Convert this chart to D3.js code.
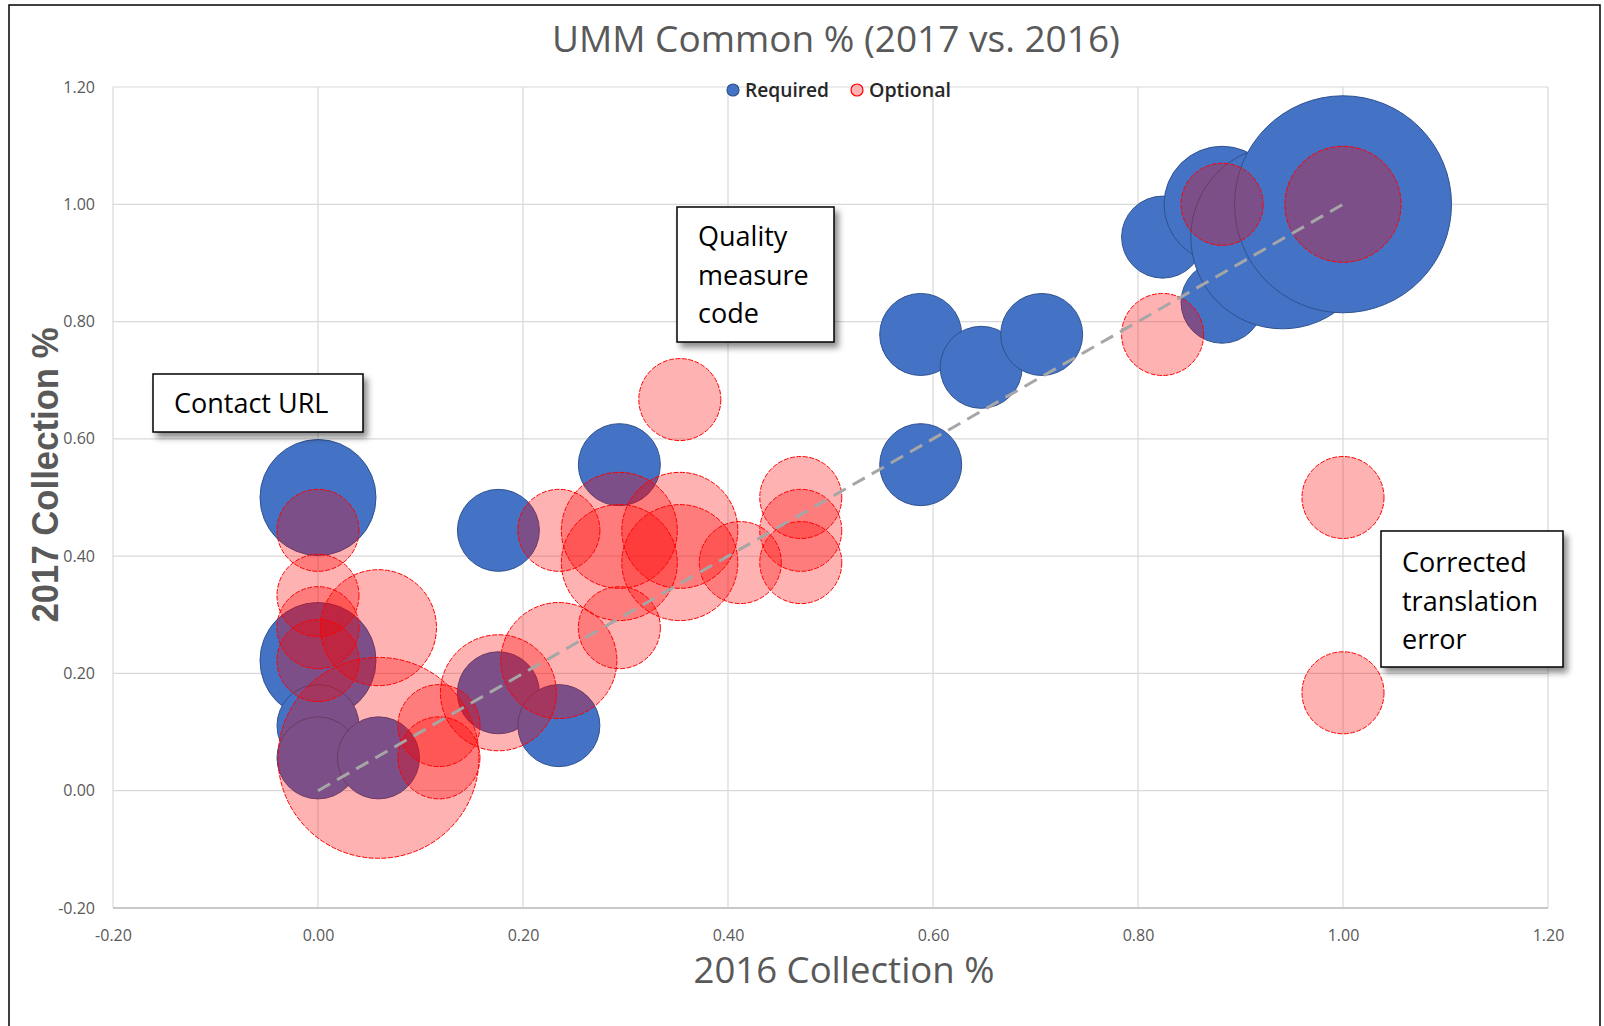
<!DOCTYPE html>
<html>
<head>
<meta charset="utf-8">
<script src="https://cdn.jsdelivr.net/npm/d3@7"></script>
<style>
  body { margin: 0; background: #fff; }
  svg { display: block; }
</style>
</head>
<body>
<div id="chart"></div>
<script>
// data
var reqX = [0.000, 0.000, 0.000, 0.000, 0.059, 0.176, 0.176, 0.235, 0.294, 0.588, 0.588, 0.647, 0.706, 0.824, 0.882, 0.882, 0.941, 1.000];
var reqY = [0.500, 0.222, 0.111, 0.056, 0.056, 0.444, 0.167, 0.111, 0.556, 0.778, 0.556, 0.722, 0.778, 0.944, 1.000, 0.833, 0.944, 1.000];
var reqSize = [2, 2, 1, 1, 1, 1, 1, 1, 1, 1, 1, 1, 1, 1, 2, 1, 5, 7];

var optX = [0.000, 0.000, 0.000, 0.000, 0.059, 0.059, 0.118, 0.118, 0.176, 0.235, 0.235, 0.294, 0.294, 0.294, 0.353, 0.353, 0.353, 0.412, 0.471, 0.471, 0.471, 0.824, 0.882, 1.000, 1.000, 1.000];
var optY = [0.444, 0.333, 0.278, 0.222, 0.278, 0.056, 0.111, 0.056, 0.167, 0.444, 0.222, 0.444, 0.389, 0.278, 0.667, 0.444, 0.389, 0.389, 0.500, 0.444, 0.389, 0.778, 1.000, 1.000, 0.500, 0.167];
var optSize = [1, 1, 1, 1, 2, 6, 1, 1, 2, 1, 2, 2, 2, 1, 1, 2, 2, 1, 1, 1, 1, 1, 1, 2, 1, 1];

var trendX = [0, 1];
var trendY = [0, 1];

var xTicks = [-0.2, 0, 0.2, 0.4, 0.6, 0.8, 1.0, 1.2];
var yTicks = [-0.2, 0, 0.2, 0.4, 0.6, 0.8, 1.0, 1.2];

var seriesNames = ["Required", "Optional"];

// box
var width = 1604;
var height = 1026;

var plotLeft = 113;
var plotRight = 1548;
var plotTop = 87;
var plotBottom = 908;

var svg = d3
    .select("#chart")
    .append("svg")
    .attr("width", width)
    .attr("height", height);

// drop shadow for the note boxes
var shadow = svg.append("defs")
    .append("filter")
    .attr("id", "shadow")
    .attr("x", "-20%")
    .attr("y", "-20%")
    .attr("width", "150%")
    .attr("height", "150%");
shadow.append("feDropShadow")
    .attr("dx", 4)
    .attr("dy", 5)
    .attr("stdDeviation", 3)
    .attr("flood-color", "#000")
    .attr("flood-opacity", 0.45);

var xScale = d3.scaleLinear().domain([-0.2, 1.2]).range([plotLeft, plotRight]);
var yScale = d3.scaleLinear().domain([-0.2, 1.2]).range([plotBottom, plotTop]);
// bubble area goes with size
var rScale = d3.scaleSqrt().domain([0, 7]).range([0, 108.5]);

// gridlines
var grid = svg.append("g").attr("class", "grid");
grid.selectAll("line.v")
    .data(xTicks)
    .enter()
    .append("line")
    .attr("x1", function(d) { return xScale(d); })
    .attr("x2", function(d) { return xScale(d); })
    .attr("y1", plotTop)
    .attr("y2", plotBottom)
    .attr("stroke", "#d9d9d9")
    .attr("stroke-width", 1.2);
grid.selectAll("line.h")
    .data(yTicks)
    .enter()
    .append("line")
    .attr("x1", plotLeft)
    .attr("x2", plotRight)
    .attr("y1", function(d) { return yScale(d); })
    .attr("y2", function(d) { return yScale(d); })
    .attr("stroke", function(d) { return d === -0.2 ? "#c8c8c8" : "#d9d9d9"; })
    .attr("stroke-width", function(d) { return d === -0.2 ? 2 : 1.2; });

// axes (labels only)
var fmt = function(d) { return d.toFixed(2); };

var xAxis = d3.axisBottom(xScale).tickValues(xTicks).tickFormat(fmt).tickSize(0).tickPadding(22);
var yAxis = d3.axisLeft(yScale).tickValues(yTicks).tickFormat(fmt).tickSize(0).tickPadding(18);

svg.append("g")
    .attr("class", "xAxis")
    .attr("transform", "translate(0," + plotBottom + ")")
    .call(xAxis);
svg.append("g")
    .attr("class", "yAxis")
    .attr("transform", "translate(" + plotLeft + ",0)")
    .call(yAxis);

svg.selectAll(".xAxis .domain, .yAxis .domain").remove();
svg.selectAll(".xAxis text, .yAxis text")
    .attr("fill", "#595959")
    .attr("font-family", "'Open Sans', sans-serif")
    .attr("font-size", 16);

// bubbles - required first, optional on top
var reqData = reqX.map(function(x, i) { return { x: x, y: reqY[i], s: reqSize[i] }; });
var optData = optX.map(function(x, i) { return { x: x, y: optY[i], s: optSize[i] }; });

svg.append("g")
    .selectAll("circle")
    .data(reqData)
    .enter()
    .append("circle")
    .attr("cx", function(d) { return xScale(d.x); })
    .attr("cy", function(d) { return yScale(d.y); })
    .attr("r", function(d) { return rScale(d.s); })
    .attr("fill", "#4472c4")
    .attr("stroke", "#2f528f")
    .attr("stroke-width", 1);

svg.append("g")
    .selectAll("circle")
    .data(optData)
    .enter()
    .append("circle")
    .attr("cx", function(d) { return xScale(d.x); })
    .attr("cy", function(d) { return yScale(d.y); })
    .attr("r", function(d) { return rScale(d.s); })
    .attr("fill", "#ff0000")
    .attr("fill-opacity", 0.3)
    .attr("stroke", "#ff0000")
    .attr("stroke-width", 1)
    .attr("stroke-dasharray", "5,1.5");

// dashed trend line
var trend = d3.line()
    .x(function(d) { return xScale(d[0]); })
    .y(function(d) { return yScale(d[1]); });
svg.append("path")
    .datum(trendX.map(function(x, i) { return [x, trendY[i]]; }))
    .attr("d", trend)
    .attr("fill", "none")
    .attr("stroke", "#a6a6a6")
    .attr("stroke-width", 3)
    .attr("stroke-dasharray", "14,8");

// legend
var legend = svg.append("g").attr("class", "legend");
var legX = [733, 857];
seriesNames.forEach(function(name, i) {
    legend.append("circle")
        .attr("cx", legX[i])
        .attr("cy", 90)
        .attr("r", 6)
        .attr("fill", i === 0 ? "#4472c4" : "#ffb2b2")
        .attr("stroke", i === 0 ? "#2f528f" : "#ff0000")
        .attr("stroke-width", 1.2);
    legend.append("text")
        .attr("x", legX[i] + 12)
        .attr("y", 97)
        .attr("font-family", "'Open Sans', sans-serif")
        .attr("font-size", 20)
        .attr("font-weight", 600)
        .attr("fill", "#262626")
        .attr("textLength", i === 0 ? 84 : 82)
        .attr("lengthAdjust", "spacingAndGlyphs")
        .text(name);
});

// title + axis titles
svg.append("text")
    .attr("x", 836)
    .attr("y", 52)
    .attr("text-anchor", "middle")
    .attr("font-family", "'Open Sans', sans-serif")
    .attr("font-size", 37)
    .attr("fill", "#595959")
    .attr("textLength", 568)
    .attr("lengthAdjust", "spacingAndGlyphs")
    .text("UMM Common % (2017 vs. 2016)");

svg.append("text")
    .attr("x", 844)
    .attr("y", 983)
    .attr("text-anchor", "middle")
    .attr("font-family", "'Open Sans', sans-serif")
    .attr("font-size", 36)
    .attr("fill", "#595959")
    .attr("textLength", 301)
    .attr("lengthAdjust", "spacingAndGlyphs")
    .text("2016 Collection %");

svg.append("text")
    .attr("transform", "translate(58,475) rotate(-90)")
    .attr("text-anchor", "middle")
    .attr("font-family", "'Liberation Sans', Arial, sans-serif")
    .attr("font-size", 37)
    .attr("font-weight", "bold")
    .attr("fill", "#595959")
    .attr("textLength", 295)
    .attr("lengthAdjust", "spacingAndGlyphs")
    .text("2017 Collection %");

// note boxes
var notes = [
    { x: 153, y: 374, w: 210, h: 58, lines: ["Contact URL"], base: 413 },
    { x: 677, y: 207, w: 157, h: 135, lines: ["Quality", "measure", "code"], base: 246 },
    { x: 1381, y: 531, w: 182, h: 136, lines: ["Corrected", "translation", "error"], base: 572 }
];
notes.forEach(function(n) {
    var g = svg.append("g");
    g.append("rect")
        .attr("x", n.x)
        .attr("y", n.y)
        .attr("width", n.w)
        .attr("height", n.h)
        .attr("fill", "#fff")
        .attr("stroke", "#000")
        .attr("stroke-width", 1.5)
        .attr("filter", "url(#shadow)");
    n.lines.forEach(function(t, i) {
        g.append("text")
            .attr("x", n.x + 21)
            .attr("y", n.base + i * 38.5)
            .attr("font-family", "'Open Sans', sans-serif")
            .attr("font-size", 27)
            .attr("fill", "#000")
            .text(t);
    });
});

// outer frame
svg.append("rect")
    .attr("x", 9)
    .attr("y", 5)
    .attr("width", 1591)
    .attr("height", 1030)
    .attr("fill", "none")
    .attr("stroke", "#000")
    .attr("stroke-width", 1.5);
</script>
</body>
</html>
